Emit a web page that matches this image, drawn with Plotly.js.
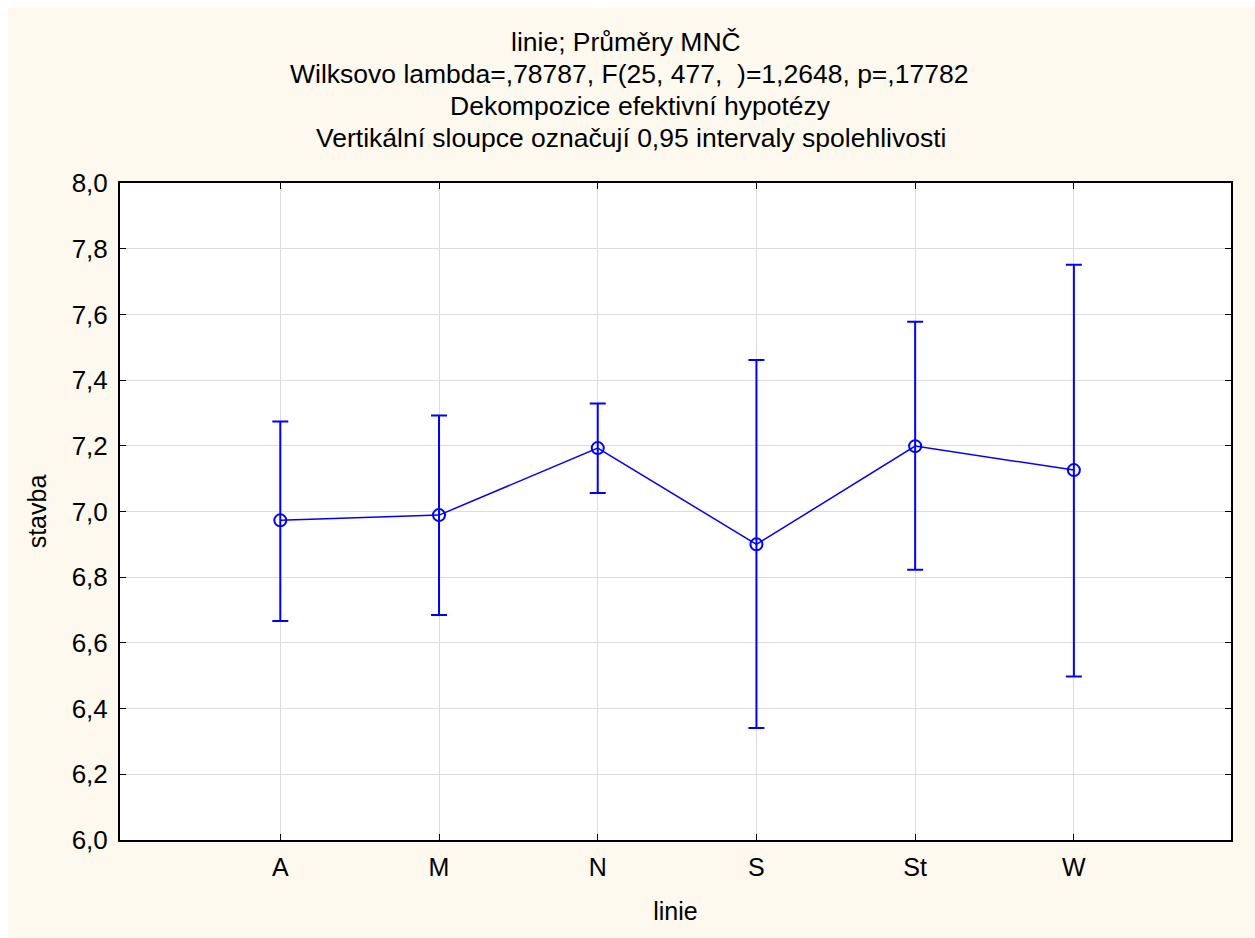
<!DOCTYPE html>
<html><head><meta charset="utf-8">
<script src="https://cdn.plot.ly/plotly-3.0.1.min.js"></script>
<style>html,body{margin:0;padding:0;background:#fff;overflow:hidden}#chart{position:absolute;left:8px;top:8px;width:1247px;height:930px}</style>
</head><body><div id="chart"></div>
<script>
const categories = ["A","M","N","S","St","W"];
const means = [6.973, 6.989, 7.193, 6.900, 7.199, 7.126];
const upper = [7.274, 7.292, 7.329, 7.461, 7.578, 7.751];
const lower = [6.667, 6.685, 7.056, 6.341, 6.823, 6.498];
const yTicks = [6.0,6.2,6.4,6.6,6.8,7.0,7.2,7.4,7.6,7.8,8.0];
const yTickText = yTicks.map(v => v.toFixed(1).replace('.', ','));
const titleLines = ["linie; Průměry MNČ","Wilksovo lambda=,78787, F(25, 477,  )=1,2648, p=,17782","Dekompozice efektivní hypotézy","Vertikální sloupce označují 0,95 intervaly spolehlivosti"];

const FONT = "Liberation Sans, Arial, sans-serif";
const plotLeft = 112, plotW = 1111, plotTop = 175, plotH = 657;
const lineCentersX = [618, 621, 632, 623];
const lineCentersY = [34, 66, 98, 130];
const annotations = titleLines.map((t,i)=>({
  text: t, xref:'paper', yref:'paper', x:(lineCentersX[i] - plotLeft)/plotW, y: 1 + (plotTop - lineCentersY[i])/plotH,
  xanchor:'center', yanchor:'middle', showarrow:false,
  font:{family:FONT, size:26.5, color:'#000'}
}));

const trace = {
  x: categories, y: means, type:'scatter', mode:'lines+markers',
  line:{color:'#0000ff', width:1.5},
  marker:{symbol:'circle-open', size:12, color:'#0000ff', line:{width:2, color:'#0000ff'}},
  error_y:{type:'data', symmetric:false,
    array: upper.map((u,i)=>u-means[i]),
    arrayminus: means.map((m,i)=>m-lower[i]),
    color:'#0000ff', thickness:2, width:8},
  hoverinfo:'skip'
};

const layout = {
  width:1247, height:930,
  paper_bgcolor:'#fdf9ee', plot_bgcolor:'#ffffff',
  margin:{l:plotLeft, r:24, t:plotTop, b:98},
  showlegend:false,
  font:{family:FONT, size:25, color:'#000'},
  annotations: annotations,
  xaxis:{type:'category', range:[-1.01, 5.99], showline:true, linecolor:'#000', linewidth:2, mirror:'ticks',
    ticks:'inside', ticklen:6, tickcolor:'#000', tickwidth:1,
    showgrid:true, gridcolor:'#dcdcdc', gridwidth:1, zeroline:false,
    tickfont:{family:FONT, size:25}, ticklabelstandoff:4,
    title:{text:'linie', font:{family:FONT, size:25}, standoff:22}},
  yaxis:{range:[6,8], tickvals:yTicks, ticktext:yTickText, showline:true, linecolor:'#000', linewidth:2, mirror:'ticks',
    ticks:'inside', ticklen:6, tickcolor:'#000', tickwidth:1,
    showgrid:true, gridcolor:'#dcdcdc', gridwidth:1, zeroline:false,
    tickfont:{family:FONT, size:26}, ticklabelstandoff:5,
    title:{text:'stavba', font:{family:FONT, size:25}, standoff:18}}
};
Plotly.newPlot('chart', [trace], layout, {displayModeBar:false, staticPlot:true});
</script></body></html>
